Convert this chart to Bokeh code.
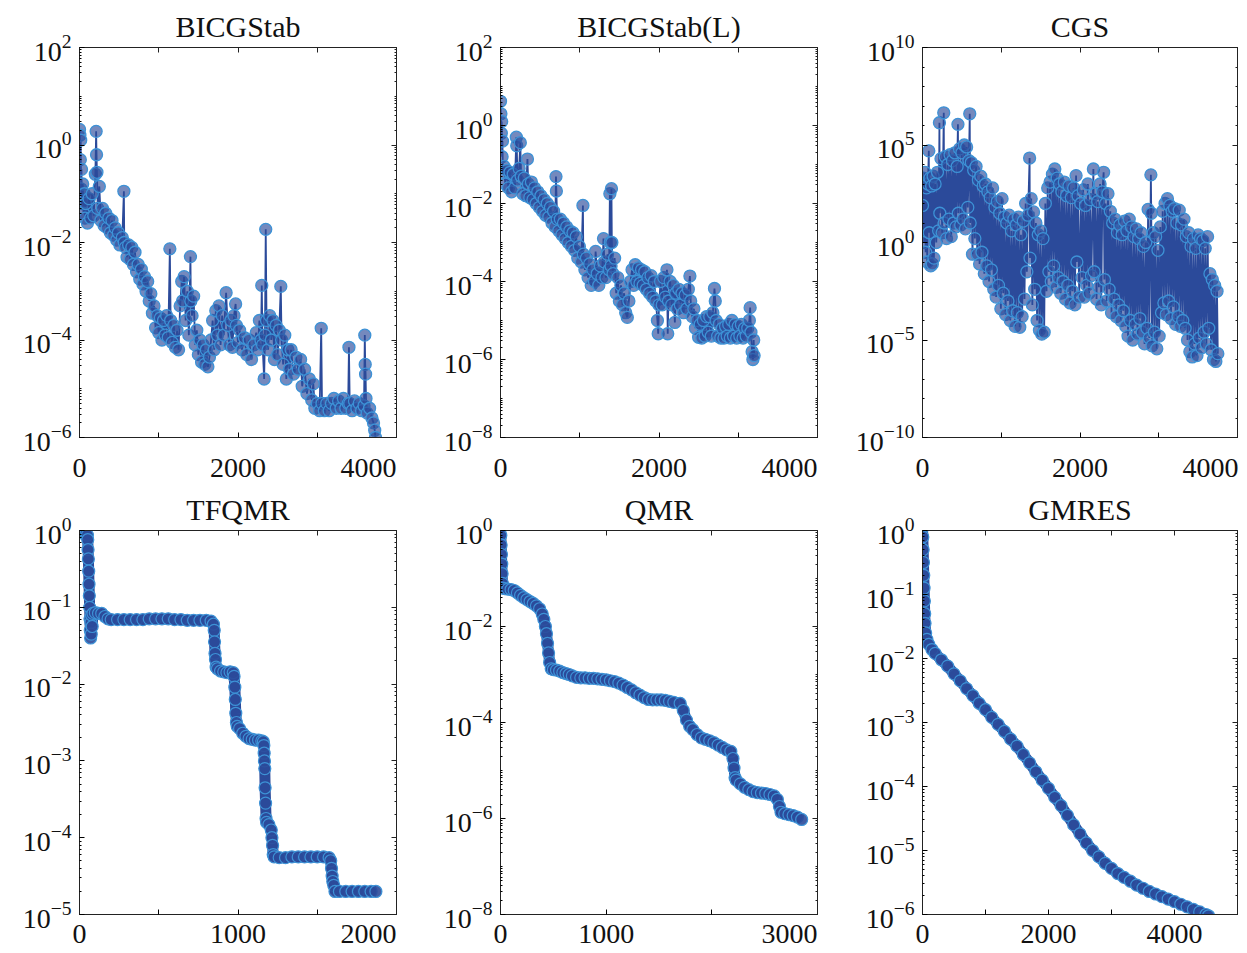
from bokeh.plotting import figure
from bokeh.layouts import row, column
from bokeh.models import FixedTicker, LogAxis, LinearAxis
from bokeh.embed import file_html
from bokeh.resources import INLINE

# ---------------- data: (iteration, log10 of relative residual) ----------------
bicgstab = [
    (0, 0.32), (5, 0.2), (10, -0.3), (15, 0.1), (20, -0.9), (25, -0.5), (30, -1.2), (40, -0.8),
    (50, -1.4), (60, -1.0), (70, -1.5), (80, -1.2), (100, -1.6), (120, -1.1), (140, -1.5), (160, -1.0),
    (180, -1.45), (200, -0.6), (210, 0.28), (215, -0.2), (220, -0.56), (230, -1.3), (250, -0.85),
    (270, -1.55), (290, -1.3), (310, -1.65), (330, -1.4), (350, -1.7), (370, -1.5), (390, -1.8),
    (410, -1.55), (430, -1.85), (450, -1.7), (470, -1.95), (490, -1.8), (510, -2.05), (540, -1.9),
    (560, -0.95), (565, -2.0), (580, -2.1), (600, -2.3), (620, -2.05), (640, -2.35), (660, -2.1),
    (680, -2.45), (700, -2.2), (720, -2.6), (740, -2.45), (760, -2.75), (780, -2.55), (800, -2.85),
    (820, -2.7), (840, -3.0), (860, -2.8), (880, -3.2), (900, -3.05), (920, -3.45), (940, -3.3),
    (960, -3.75), (980, -3.5), (1000, -3.85), (1020, -3.55), (1040, -4.0), (1060, -3.6), (1080, -3.9),
    (1100, -3.5), (1120, -3.95), (1140, -2.13), (1150, -3.6), (1170, -4.05), (1190, -3.7), (1210, -4.15),
    (1230, -3.8), (1250, -4.2), (1270, -3.3), (1290, -2.8), (1300, -3.2), (1320, -2.7), (1340, -3.6),
    (1360, -3.0), (1380, -3.9), (1400, -2.29), (1405, -3.2), (1420, -3.5), (1440, -3.1), (1460, -4.1),
    (1480, -3.8), (1500, -4.3), (1520, -4.0), (1540, -4.45), (1560, -4.1), (1580, -4.5), (1600, -4.2),
    (1620, -4.55), (1640, -4.35), (1660, -4.0), (1680, -3.6), (1700, -4.2), (1720, -3.4), (1740, -3.9),
    (1760, -3.3), (1780, -4.1), (1800, -3.5), (1820, -3.9), (1850, -3.03), (1870, -3.7), (1890, -4.1),
    (1910, -3.6), (1930, -4.15), (1950, -3.5), (1970, -3.26), (1980, -3.7), (2000, -4.05), (2020, -3.8),
    (2050, -4.2), (2080, -3.95), (2110, -4.3), (2140, -4.0), (2170, -4.4), (2200, -4.1), (2230, -3.85),
    (2250, -4.2), (2270, -3.6), (2290, -4.0), (2300, -2.88), (2310, -4.1), (2330, -4.8), (2340, -3.9),
    (2350, -1.73), (2360, -3.6), (2380, -4.2), (2400, -3.5), (2420, -4.0), (2440, -3.6), (2460, -4.4),
    (2480, -3.7), (2500, -4.3), (2520, -3.8), (2540, -2.9), (2550, -4.0), (2570, -4.5), (2590, -3.9),
    (2610, -4.8), (2630, -4.2), (2650, -4.6), (2670, -4.2), (2700, -4.7), (2730, -4.35), (2760, -4.6),
    (2790, -4.4), (2810, -4.95), (2840, -4.6), (2870, -5.1), (2900, -4.8), (2930, -5.23), (2950, -4.9),
    (2970, -5.4), (3000, -5.3), (3030, -5.45), (3050, -3.76), (3060, -5.3), (3090, -5.45), (3120, -5.3),
    (3150, -5.45), (3180, -5.3), (3210, -5.2), (3240, -5.4), (3270, -5.25), (3300, -5.4), (3330, -5.2),
    (3360, -5.4), (3390, -5.3), (3400, -4.15), (3410, -5.3), (3440, -5.45), (3470, -5.25), (3500, -5.4),
    (3530, -5.3), (3560, -5.45), (3590, -5.35), (3600, -3.9), (3605, -4.5), (3610, -4.7), (3615, -5.2),
    (3630, -5.5), (3660, -5.4), (3690, -5.6), (3710, -5.7), (3725, -5.85), (3735, -6.0),
]

bicgstab_l = [
    (0, 0.62), (5, 0.3), (10, -0.2), (15, 0.1), (20, -0.8), (25, -0.4), (30, -1.2), (45, -1.05),
    (60, -1.5), (80, -1.15), (100, -1.6), (120, -1.2), (140, -1.7), (160, -1.25), (180, -1.6),
    (200, -0.3), (205, -0.52), (215, -1.4), (235, -1.1), (250, -0.44), (260, -1.3), (280, -1.75),
    (300, -1.35), (320, -1.8), (340, -0.86), (350, -1.5), (370, -1.85), (390, -1.45), (410, -1.9),
    (430, -1.6), (450, -2.0), (470, -1.7), (490, -2.1), (510, -1.8), (530, -2.2), (550, -1.9),
    (570, -2.3), (590, -2.0), (610, -2.35), (630, -2.1), (650, -2.5), (670, -2.2), (690, -2.6),
    (700, -1.31), (705, -1.68), (715, -2.4), (735, -2.7), (755, -2.4), (775, -2.8), (795, -2.5),
    (815, -2.9), (835, -2.6), (855, -3.0), (875, -2.7), (895, -3.1), (915, -2.75), (935, -3.2),
    (955, -2.85), (975, -3.4), (995, -3.1), (1020, -3.5), (1040, -2.05), (1045, -3.3), (1065, -3.7),
    (1085, -3.4), (1105, -3.9), (1125, -3.55), (1145, -4.1), (1165, -3.7), (1185, -4.0), (1200, -3.23),
    (1220, -3.8), (1240, -4.1), (1260, -3.6), (1280, -3.9), (1300, -2.9), (1310, -3.5), (1330, -3.9),
    (1350, -3.3), (1370, -3.7), (1380, -1.75), (1385, -3.0), (1395, -3.6), (1400, -1.62), (1405, -3.0),
    (1420, -3.8), (1440, -3.4), (1460, -4.3), (1480, -3.9), (1500, -4.5), (1520, -4.1), (1540, -4.6),
    (1560, -4.3), (1580, -4.8), (1600, -4.92), (1620, -4.5), (1640, -4.0), (1660, -3.7), (1680, -4.1),
    (1700, -3.57), (1720, -4.0), (1740, -3.65), (1760, -4.05), (1780, -3.7), (1800, -4.1), (1820, -3.75),
    (1840, -4.2), (1860, -3.9), (1880, -4.3), (1900, -3.85), (1920, -4.4), (1940, -4.0), (1960, -4.5),
    (1980, -5.0), (1990, -5.34), (2000, -4.6), (2020, -4.0), (2040, -4.6), (2060, -3.9), (2080, -4.4),
    (2100, -3.7), (2110, -5.34), (2120, -4.5), (2140, -4.0), (2160, -4.6), (2180, -4.1), (2200, -5.05),
    (2210, -4.3), (2230, -4.7), (2250, -4.2), (2270, -4.6), (2290, -4.3), (2310, -4.8), (2330, -4.35),
    (2350, -4.7), (2370, -4.2), (2390, -3.86), (2400, -4.5), (2420, -4.9), (2440, -4.7), (2460, -5.2),
    (2480, -5.0), (2500, -5.43), (2520, -5.1), (2540, -5.45), (2560, -5.0), (2580, -5.4), (2600, -4.9),
    (2620, -5.3), (2640, -4.9), (2660, -5.4), (2680, -4.8), (2700, -4.18), (2710, -4.5), (2720, -5.0),
    (2740, -5.4), (2760, -5.1), (2780, -5.45), (2800, -5.2), (2820, -5.45), (2840, -5.15), (2860, -5.4),
    (2880, -5.1), (2900, -5.45), (2920, -5.0), (2940, -5.4), (2960, -5.1), (2980, -5.45), (3000, -5.15),
    (3020, -5.4), (3040, -5.1), (3060, -5.45), (3080, -5.2), (3100, -5.4), (3120, -5.2), (3140, -5.0),
    (3150, -4.67), (3160, -5.3), (3175, -5.8), (3185, -6.0), (3195, -5.5), (3200, -5.9),
]

cgs = [
    (0, 1.9), (10, 3.3), (20, 0.0), (30, 3.6), (40, -0.5), (50, 2.8), (60, -1.0), (70, 3.0), (80, 4.7),
    (85, 0.5), (95, 3.3), (105, -1.2), (115, 2.9), (125, -1.1), (135, 3.4), (145, -0.8), (160, 3.0),
    (175, 0.0), (190, 3.6), (205, 0.6), (215, 6.14), (220, 1.5), (235, 4.3), (250, 0.5), (270, 6.65),
    (275, 1.0), (290, 4.4), (305, 0.2), (320, 4.0), (335, 1.2), (350, 4.5), (365, 0.3), (380, 4.2),
    (395, 1.0), (410, 4.6), (425, 0.8), (440, 3.9), (450, 6.06), (455, 1.5), (470, 4.8), (485, 0.9),
    (500, 4.6), (515, 1.2), (530, 5.0), (545, 0.7), (560, 4.9), (575, 1.8), (590, 4.2), (600, 6.6),
    (605, 1.0), (620, 4.1), (635, -0.6), (650, 3.7), (665, 0.2), (680, 3.9), (695, -0.6), (710, 3.2),
    (725, -1.1), (740, 3.4), (755, -0.5), (770, 2.9), (785, -1.6), (800, 3.0), (815, -1.2), (830, 2.6),
    (845, -2.0), (860, 2.3), (875, -1.4), (890, 2.8), (905, -2.4), (920, 1.8), (935, -2.8), (950, 2.1),
    (965, -2.2), (980, 1.5), (995, -3.4), (1010, 2.25), (1025, -2.6), (1040, 1.3), (1055, -3.7),
    (1070, 1.0), (1085, -3.0), (1100, 1.4), (1115, -4.0), (1130, 0.6), (1145, -3.5), (1160, 1.2),
    (1175, -4.3), (1190, 0.9), (1205, -3.6), (1220, 1.3), (1235, -4.35), (1250, 0.4), (1265, -3.8),
    (1280, 1.1), (1295, -2.9), (1310, 2.0), (1325, -1.5), (1340, 1.4), (1360, 4.33), (1365, -0.8),
    (1380, 2.25), (1395, -3.2), (1410, 1.57), (1425, -2.4), (1440, 1.0), (1455, -4.0), (1470, 0.4),
    (1485, -4.5), (1500, 0.6), (1515, -4.7), (1530, 0.2), (1545, -4.6), (1560, 2.0), (1575, -2.5),
    (1590, 2.8), (1605, -1.5), (1620, 3.1), (1635, -2.0), (1650, 3.5), (1665, -1.2), (1680, 3.77),
    (1695, -2.3), (1710, 3.3), (1725, -1.8), (1740, 3.0), (1755, -2.6), (1770, 2.6), (1785, -2.0),
    (1800, 3.1), (1815, -2.9), (1830, 2.4), (1845, -2.2), (1860, 2.9), (1875, -3.1), (1890, 2.3),
    (1905, -2.5), (1920, 2.8), (1935, -3.2), (1950, 3.43), (1960, -1.0), (1975, 2.4), (1990, -2.8),
    (2010, 2.0), (2025, -1.8), (2040, 2.7), (2055, -2.8), (2070, 1.9), (2085, -2.2), (2100, 3.0),
    (2115, -2.6), (2130, 2.2), (2145, -1.7), (2170, 3.77), (2180, -1.5), (2195, 2.5), (2210, -2.9),
    (2225, 2.1), (2240, -2.3), (2255, 3.0), (2270, -3.2), (2285, 2.6), (2300, 3.6), (2310, -1.9),
    (2325, 2.0), (2340, -3.0), (2355, 2.5), (2370, -2.4), (2385, 1.6), (2400, -3.6), (2415, 1.0),
    (2430, -2.9), (2445, 1.2), (2460, -3.8), (2475, 0.5), (2490, -3.2), (2505, 0.9), (2520, -4.0),
    (2535, 0.4), (2550, -3.5), (2565, 1.1), (2580, -4.3), (2595, 0.6), (2610, -4.8), (2625, 1.2),
    (2640, -4.0), (2655, 0.8), (2670, -5.0), (2685, 0.3), (2700, -4.2), (2715, 0.7), (2730, -4.7),
    (2745, 0.2), (2760, -3.9), (2775, 0.5), (2790, -4.6), (2805, -0.2), (2820, -5.2), (2835, 0.0),
    (2850, -4.4), (2865, 1.7), (2880, -4.9), (2900, 3.47), (2905, 1.5), (2915, -5.3), (2930, 0.5),
    (2945, -4.6), (2960, 0.3), (2975, -5.45), (2990, -0.4), (3005, -4.8), (3020, 0.8), (3035, -3.6),
    (3050, 1.6), (3065, -3.1), (3080, 2.0), (3095, -3.7), (3110, 2.25), (3125, -3.0), (3140, 1.9),
    (3155, -3.9), (3170, 1.6), (3185, -3.3), (3200, 1.74), (3215, -4.2), (3230, 1.0), (3245, -3.8),
    (3260, 1.66), (3275, -4.3), (3290, 0.9), (3305, -4.0), (3320, 1.2), (3335, -4.4), (3350, 0.3),
    (3365, -5.0), (3380, 0.5), (3395, -5.6), (3410, -0.2), (3425, -5.87), (3440, 0.2), (3455, -5.2),
    (3470, -0.3), (3485, -5.8), (3500, 0.39), (3515, -4.9), (3530, 0.2), (3545, -5.4), (3560, 0.1),
    (3575, -4.6), (3590, -0.3), (3605, -5.2), (3620, 0.3), (3635, -4.4), (3650, -1.6), (3665, -5.5),
    (3680, -1.9), (3695, -6.0), (3710, -2.2), (3725, -6.1), (3740, -2.5), (3750, -5.7),
]

tfqmr = [
    (0, 0.01), (10, -0.03), (20, -0.03), (30, -0.04), (40, -0.05), (50, -0.06), (52, -0.12), (54, -0.25),
    (56, -0.37), (58, -0.53), (60, -0.7), (62, -0.85), (64, -1.0), (66, -1.15), (68, -1.3), (70, -1.4),
    (72, -1.2), (74, -1.35), (76, -1.1), (80, -1.25), (85, -1.08), (100, -1.07), (120, -1.08),
    (140, -1.08), (160, -1.12), (180, -1.15), (200, -1.16), (240, -1.16), (280, -1.16), (320, -1.16),
    (360, -1.16), (400, -1.16), (440, -1.15), (480, -1.15), (520, -1.15), (560, -1.15), (600, -1.16),
    (640, -1.16), (680, -1.17), (720, -1.17), (760, -1.17), (800, -1.17), (830, -1.18), (845, -1.22),
    (850, -1.30), (852, -1.45), (855, -1.6), (858, -1.68), (862, -1.78), (870, -1.8), (890, -1.83),
    (910, -1.84), (930, -1.85), (950, -1.84), (970, -1.85), (975, -1.9), (980, -2.04), (983, -2.2),
    (986, -2.38), (990, -2.5), (995, -2.55), (1010, -2.58), (1030, -2.64), (1050, -2.68), (1070, -2.71),
    (1090, -2.72), (1110, -2.73), (1130, -2.73), (1150, -2.74), (1160, -2.75), (1163, -2.8), (1165, -2.9),
    (1167, -3.0), (1169, -3.1), (1171, -3.35), (1174, -3.55), (1177, -3.75), (1180, -3.8), (1195, -3.83),
    (1210, -3.9), (1214, -4.0), (1218, -4.1), (1222, -4.22), (1228, -4.25), (1260, -4.26), (1300, -4.26),
    (1340, -4.25), (1380, -4.25), (1420, -4.25), (1460, -4.25), (1500, -4.25), (1540, -4.25),
    (1575, -4.26), (1585, -4.3), (1590, -4.4), (1594, -4.5), (1598, -4.57), (1604, -4.62), (1612, -4.7),
    (1640, -4.7), (1680, -4.7), (1720, -4.7), (1760, -4.7), (1800, -4.7), (1840, -4.7), (1870, -4.7),
]

qmr = [
    (0, 0.05), (3, -0.1), (6, -0.3), (9, -0.5), (12, -0.7), (15, -0.9), (18, -1.1), (22, -1.2),
    (40, -1.21), (70, -1.22), (100, -1.23), (130, -1.25), (160, -1.3), (190, -1.35), (220, -1.4),
    (250, -1.44), (280, -1.48), (310, -1.52), (340, -1.57), (370, -1.63), (395, -1.74), (410, -1.85),
    (425, -2.0), (435, -2.15), (445, -2.35), (455, -2.55), (465, -2.75), (480, -2.88), (500, -2.9),
    (530, -2.91), (560, -2.93), (590, -2.96), (620, -2.98), (650, -3.0), (680, -3.03), (720, -3.06),
    (760, -3.07), (800, -3.07), (840, -3.08), (880, -3.08), (920, -3.09), (960, -3.1), (1000, -3.11),
    (1040, -3.13), (1080, -3.15), (1120, -3.18), (1160, -3.22), (1200, -3.27), (1240, -3.32),
    (1280, -3.38), (1320, -3.43), (1360, -3.48), (1400, -3.52), (1440, -3.53), (1480, -3.53),
    (1520, -3.53), (1560, -3.54), (1600, -3.56), (1640, -3.58), (1700, -3.6), (1730, -3.75),
    (1760, -3.95), (1790, -4.08), (1820, -4.15), (1860, -4.25), (1900, -4.32), (1940, -4.35),
    (1980, -4.38), (2020, -4.42), (2060, -4.47), (2100, -4.52), (2140, -4.57), (2180, -4.6),
    (2200, -4.75), (2210, -4.95), (2220, -5.15), (2230, -5.2), (2270, -5.28), (2310, -5.35),
    (2350, -5.4), (2390, -5.44), (2430, -5.46), (2470, -5.47), (2510, -5.48), (2550, -5.5),
    (2590, -5.53), (2620, -5.6), (2640, -5.75), (2655, -5.87), (2690, -5.9), (2730, -5.92),
    (2770, -5.94), (2810, -5.97), (2850, -6.02),
]

gmres = [
    (0, 0.04), (5, -0.1), (10, -0.3), (15, -0.5), (20, -0.7), (25, -0.9), (30, -1.1), (35, -1.3),
    (40, -1.45), (50, -1.6), (70, -1.7), (100, -1.78), (150, -1.86), (200, -1.92), (300, -2.02),
    (400, -2.12), (500, -2.24), (600, -2.35), (700, -2.47), (800, -2.58), (900, -2.7), (1000, -2.8),
    (1100, -2.92), (1200, -3.03), (1300, -3.14), (1400, -3.26), (1500, -3.37), (1600, -3.5),
    (1700, -3.63), (1800, -3.77), (1900, -3.9), (2000, -4.03), (2100, -4.17), (2200, -4.3),
    (2300, -4.45), (2400, -4.6), (2500, -4.74), (2600, -4.88), (2700, -5.0), (2800, -5.1),
    (2900, -5.2), (3000, -5.28), (3100, -5.36), (3200, -5.42), (3300, -5.48), (3400, -5.54),
    (3500, -5.59), (3600, -5.64), (3700, -5.68), (3800, -5.72), (3900, -5.76), (4000, -5.8),
    (4100, -5.84), (4200, -5.88), (4300, -5.92), (4400, -5.96), (4500, -6.0), (4540, -6.02),
]

titles = ["BICGStab", "BICGStab(L)", "CGS", "TFQMR", "QMR", "GMRES"]

# ---------------- styling ----------------
FONT = "Liberation Serif"
NAVY = "#2b4a9a"
LIGHT = "#3d92d6"
TICK_FS = "28px"
# trailing padding on the last x label: the label box is kept inside the canvas, so the
# padding width equal to the right border makes the digits end right at the last tick
PAD2 = "\u2007\u2007"   # two figure spaces (~28 px)
PAD1 = "\u2008"         # punctuation space (~7 px)


def y_minor_ticks(lo, hi, majors, sub):
    out = []
    for k in range(lo, hi + 1):
        d = 10.0 ** k
        if d not in majors:
            out.append(d)
        if sub and k < hi:
            out += [m * d for m in range(2, 10)]
    return out


def mirror_axis(cls, ticker, minor_in):
    # tick marks only, on the opposite side of the box
    return cls(ticker=ticker, major_label_text_font_size="1px", major_label_text_alpha=0,
               major_label_standoff=0, major_tick_in=5, major_tick_out=0, minor_tick_in=minor_in,
               minor_tick_out=0, axis_line_color="#222222", major_tick_line_color="#222222",
               minor_tick_line_color="#222222")


def make_panel(title, pts, xmax, x_major, x_minor, edge_tick, pad, ylo, yhi, ystep, sub,
               smooth, width, height, bl, br, bt, bb, x_standoff):
    xs = [p[0] for p in pts]
    ys = [10.0 ** p[1] for p in pts]
    p = figure(width=width, height=height, x_range=(0, xmax), y_range=(10.0 ** ylo, 10.0 ** yhi),
               y_axis_type="log", output_backend="svg", toolbar_location=None, title=title,
               min_border_left=bl, min_border_right=br, min_border_top=bt, min_border_bottom=bb)
    p.background_fill_color = "white"
    p.border_fill_color = "white"
    p.outline_line_color = "#222222"
    p.outline_line_width = 1
    p.grid.visible = False

    p.title.align = "center"
    p.title.text_font = FONT
    p.title.text_font_size = "30px"
    p.title.text_font_style = "normal"
    p.title.text_color = "#111111"
    p.title.standoff = 10

    ymaj = [10.0 ** k for k in range(ylo, yhi + 1, ystep)]
    ymin = y_minor_ticks(ylo, yhi, ymaj, sub)

    xa = p.xaxis[0]
    xa.ticker = FixedTicker(ticks=x_major, minor_ticks=x_minor)
    xa.major_tick_in = 5
    xa.major_tick_out = 0
    xa.minor_tick_in = 5
    xa.minor_tick_out = 0
    xa.major_label_text_font = FONT
    xa.major_label_text_font_size = TICK_FS
    xa.major_label_text_color = "#111111"
    xa.major_label_standoff = x_standoff
    xa.axis_line_color = "#222222"
    if edge_tick is not None:
        xa.major_label_overrides = {edge_tick: str(edge_tick) + pad}

    ya = p.yaxis[0]
    ya.ticker = FixedTicker(ticks=ymaj, minor_ticks=ymin)
    ya.major_tick_in = 5
    ya.major_tick_out = 0
    ya.minor_tick_in = 2
    ya.minor_tick_out = 0
    ya.major_label_text_font = FONT
    ya.major_label_text_font_size = TICK_FS
    ya.major_label_text_color = "#111111"
    ya.major_label_standoff = 8
    ya.axis_line_color = "#222222"

    p.add_layout(mirror_axis(LogAxis, FixedTicker(ticks=ymaj, minor_ticks=ymin), 2), "right")
    p.add_layout(mirror_axis(LinearAxis, FixedTicker(ticks=x_major, minor_ticks=x_minor), 5), "above")

    if smooth:
        p.line(xs, ys, line_color=NAVY, line_width=11)
        p.scatter(xs, ys, marker="circle", size=12, fill_color=NAVY, fill_alpha=0.9,
                  line_color=LIGHT, line_width=1.2)
    else:
        p.line(xs, ys, line_color=NAVY, line_width=1.8)
        p.scatter(xs, ys, marker="circle", size=12, fill_color=NAVY, fill_alpha=0.65,
                  line_color=LIGHT, line_width=1.3)
    return p


p1 = make_panel(titles[0], bicgstab, 4000, [0, 2000, 4000], [1000, 3000], 4000, PAD2, -6, 2, 2, True,
                False, 424, 485, 79, 28, 47, 45, 14)
p2 = make_panel(titles[1], bicgstab_l, 4000, [0, 2000, 4000], [1000, 3000], 4000, PAD2, -8, 2, 2, True,
                False, 421, 485, 76, 28, 47, 45, 14)
p3 = make_panel(titles[2], cgs, 4000, [0, 2000, 4000], [1000, 3000], 4000, PAD1, -10, 10, 5, False,
                False, 400, 485, 77, 8, 47, 45, 14)
p4 = make_panel(titles[3], tfqmr, 2000, [0, 1000, 2000], [500, 1500], 2000, PAD2, -5, 0, 1, True,
                True, 424, 466, 79, 28, 43, 35, 3)
p5 = make_panel(titles[4], qmr, 3000, [0, 1000, 3000], [2000], 3000, PAD2, -8, 0, 2, True,
                True, 421, 466, 76, 28, 43, 35, 3)
p6 = make_panel(titles[5], gmres, 5000, [0, 2000, 4000], [1000, 3000, 5000], None, "", -6, 0, 1, True,
                True, 400, 466, 77, 8, 43, 35, 10)

layout = column(row(p1, p2, p3), row(p4, p5, p6))
open("out.html", "w").write(file_html(layout, INLINE))
